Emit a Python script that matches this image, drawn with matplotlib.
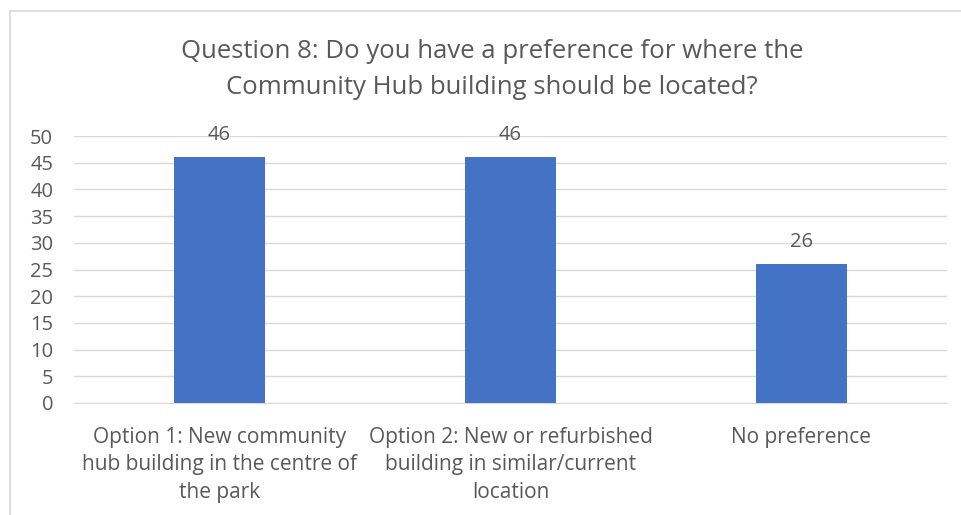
import matplotlib.pyplot as plt
from matplotlib.lines import Line2D

categories = ["Option 1: New community\nhub building in the centre of\nthe park",
              "Option 2: New or refurbished\nbuilding in similar/current\nlocation",
              "No preference"]
counts = [46, 46, 26]
yticks = list(range(0, 55, 5))
title = "Question 8: Do you have a preference for where the\nCommunity Hub building should be located?"

plt.rcParams['font.family'] = ['Open Sans', 'DejaVu Sans']
grey = "#595959"
grid = "#d9d9d9"

fig = plt.figure(figsize=(9.62, 5.15), dpi=100)
ax = fig.add_axes([74/962, 1-403/515, (947-74)/962, (403-136)/515])

x = range(len(categories))
bars = ax.bar(x, counts, width=0.313, color="#4472c4", zorder=3)
for b, v in zip(bars, counts):
    ax.annotate(str(v), (b.get_x() + b.get_width()/2, v), xytext=(0, 9),
                textcoords="offset points", ha="center", va="bottom",
                fontsize=14.5, color=grey)

ax.set_xlim(-0.5, 2.5)
ax.set_ylim(0, 50)
ax.set_yticks(yticks)
ax.set_xticks(list(x))
ax.set_xticklabels(categories, fontsize=15, color=grey, linespacing=1.43)
ax.tick_params(axis="y", labelsize=14.5, labelcolor=grey, length=0, pad=15)
ax.tick_params(axis="x", length=0, pad=17)
ax.grid(axis="y", color=grid, linewidth=1, zorder=0)
for s in ["top", "right", "left"]:
    ax.spines[s].set_visible(False)
ax.spines["bottom"].set_color(grid)

fig.text(492/962, 1-69.5/515, title, ha="center", va="center", fontsize=18.5,
         color=grey, linespacing=1.58)

# chart border (left and top edges visible)
fig.add_artist(Line2D([10/962, 10/962], [0, 1-11/515], color=grid, lw=1.2))
fig.add_artist(Line2D([10/962, 1], [1-11/515, 1-11/515], color=grid, lw=1.2))

fig.savefig("out.png", dpi=100)
